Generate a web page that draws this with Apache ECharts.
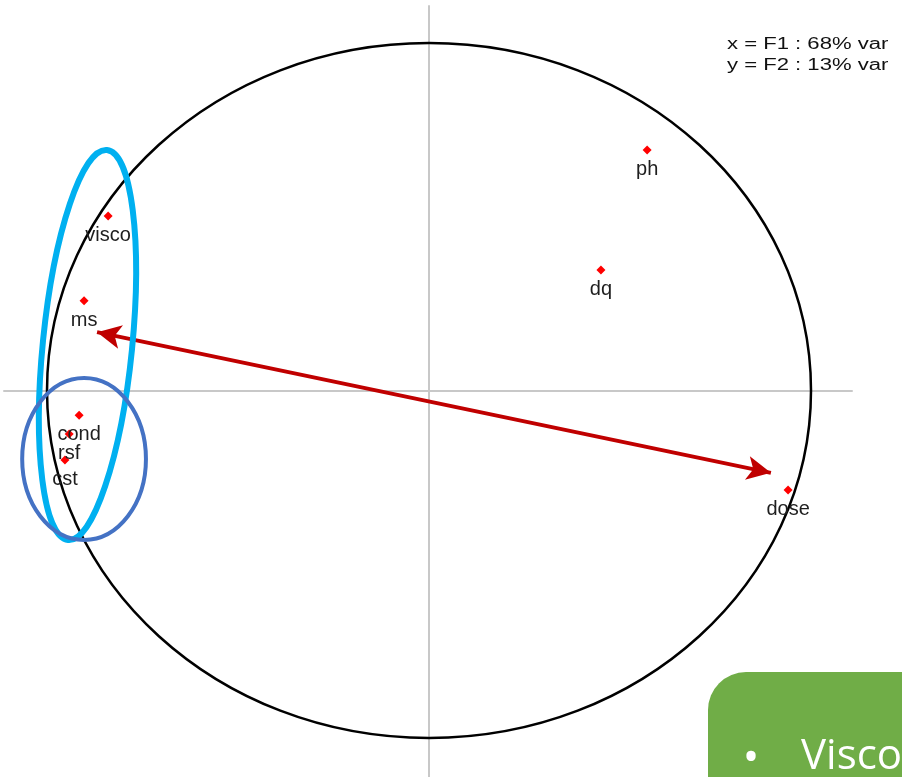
<!DOCTYPE html>
<html><head><meta charset="utf-8">
<script src="https://cdn.jsdelivr.net/npm/echarts@6/dist/echarts.min.js"></script>
<style>html,body{margin:0;padding:0;background:#fff;overflow:hidden}#c{width:902px;height:777px}</style>
</head><body><div id="c"></div>
<script>
// variables of the correlation circle (PCA loadings)
const variables = ['ph', 'dq', 'visco', 'ms', 'cond', 'rsf', 'cst', 'dose'];
const f1 = [0.571, 0.450, -0.840, -0.903, -0.916, -0.942, -0.953, 0.940];
const f2 = [0.692, 0.347, 0.502, 0.258, -0.071, -0.125, -0.200, -0.286];
const axisTitles = ['x = F1 : 68% var', 'y = F2 : 13% var'];
const circleRadius = [1];
// slide annotations, in data units
const arrowStart = [-0.869, 0.168];
const arrowEnd = [0.895, -0.237];
const lightEllipse = [-0.894, 0.131, 0.117, 0.564, 5.7];   // cx, cy, semi-minor (x units), semi-major (y units), tilt deg
const darkEllipse = [-0.903, -0.197, 0.162, 0.233];         // cx, cy, rx, ry
const boxText = ['•', 'Visco'];

const chart = echarts.init(document.getElementById('c'), null, {renderer: 'canvas'});

const pointData = variables.map((n, i) => ({name: n, value: [f1[i], f2[i]]}));

function ellipseItem(params, api) {
  const c = api.coord([api.value(0), api.value(1)]);
  const s = api.size([api.value(2), api.value(3)]);
  const tilt = (api.value(4) || 0) * Math.PI / 180;
  return {
    type: 'ellipse',
    x: c[0], y: c[1], rotation: -tilt,
    shape: {cx: 0, cy: 0, rx: s[0], ry: s[1]},
    style: {fill: 'none', stroke: api.visual('color'), lineWidth: params.seriesName === 'light' ? 6 : 4}
  };
}

const option = {
  animation: false,
  grid: {left: 4, right: 50, top: 6, bottom: 0, containLabel: false},
  xAxis: {
    type: 'value', min: -1.1126, max: 1.1073,
    axisLine: {onZero: true, lineStyle: {color: '#c8c8c8', width: 2}},
    axisTick: {show: false}, axisLabel: {show: false}, splitLine: {show: false}
  },
  yAxis: {
    type: 'value', min: -1.1122, max: 1.1065,
    axisLine: {onZero: true, lineStyle: {color: '#c8c8c8', width: 2}},
    axisTick: {show: false}, axisLabel: {show: false}, splitLine: {show: false}
  },
  series: [
    {
      name: 'circle', type: 'custom', silent: true, clip: false, z: 2,
      data: [[0, 0, circleRadius[0]]],
      renderItem: function (params, api) {
        const c = api.coord([api.value(0), api.value(1)]);
        const s = api.size([api.value(2), api.value(2)]);
        return {
          type: 'ellipse',
          shape: {cx: c[0], cy: c[1], rx: s[0], ry: s[1]},
          style: {fill: 'none', stroke: '#000', lineWidth: 2.5}
        };
      }
    },
    {
      name: 'vars', type: 'scatter', z: 3,
      symbol: 'diamond', symbolSize: 9,
      itemStyle: {color: '#ff0000', opacity: 1},
      data: pointData,
      label: {
        show: true, position: 'bottom', distance: 5,
        formatter: '{b}', color: '#1e1e1e', fontSize: 20,
        fontFamily: 'Liberation Sans, Arial, sans-serif'
      }
    },
    {
      name: 'light', type: 'custom', silent: true, clip: false, z: 5,
      itemStyle: {color: '#00b0f0'},
      data: [lightEllipse],
      renderItem: ellipseItem
    },
    {
      name: 'dark', type: 'custom', silent: true, clip: false, z: 5,
      itemStyle: {color: '#4472c4'},
      data: [[darkEllipse[0], darkEllipse[1], darkEllipse[2], darkEllipse[3], 0]],
      renderItem: ellipseItem,
      markLine: {
        silent: true, animation: false,
        symbol: ['arrow', 'arrow'], symbolSize: [18, 24],
        label: {show: false},
        lineStyle: {color: '#c00000', width: 4, type: 'solid'},
        data: [[{coord: arrowStart}, {coord: arrowEnd}]]
      }
    }
  ],
  graphic: [
    {
      type: 'text', x: 727, y: 34, scaleX: 1.38, z: 10,
      style: {
        text: axisTitles.join('\n'), fill: '#111',
        font: '16px "Liberation Sans", Arial, sans-serif', lineHeight: 21
      }
    },
    {
      type: 'rect', x: 708, y: 672, z: 20,
      shape: {width: 260, height: 160, r: 38},
      style: {fill: '#70ad47'}
    },
    {
      type: 'text', x: 751, y: 759, z: 21,
      style: {text: boxText[0], fill: '#fff', font: '44px "Open Sans", sans-serif', align: 'center', verticalAlign: 'middle'}
    },
    {
      type: 'text', x: 801, y: 736, z: 21,
      style: {text: boxText[1], fill: '#fff', font: '42px "Open Sans", sans-serif'}
    }
  ]
};
chart.setOption(option);
</script>
</body></html>
